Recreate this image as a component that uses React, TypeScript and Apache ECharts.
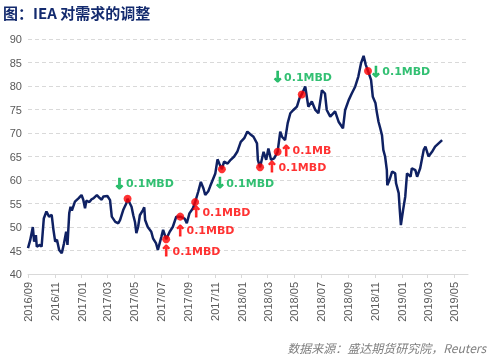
import React, { useEffect, useRef } from "react";
import * as echarts from "echarts";

const titleText = "图：IEA 对需求的调整";
const sourceText = "数据来源：盛达期货研究院，Reuters";

const yTicks = { min: 40, max: 90, step: 5 };

const dates = [
  "2016-09-01","2016-09-06","2016-09-12","2016-09-15","2016-09-19","2016-09-21","2016-09-28","2016-10-02","2016-10-07","2016-10-13",
  "2016-10-19","2016-10-25","2016-10-29","2016-11-02","2016-11-06","2016-11-11","2016-11-17","2016-11-22","2016-11-27","2016-11-30",
  "2016-12-04","2016-12-07","2016-12-10","2016-12-17","2016-12-25","2017-01-01","2017-01-05","2017-01-09","2017-01-12","2017-01-19",
  "2017-01-24","2017-01-28","2017-02-05","2017-02-12","2017-02-16","2017-02-20","2017-03-01","2017-03-07","2017-03-11","2017-03-19",
  "2017-03-26","2017-03-30","2017-04-06","2017-04-13","2017-04-16","2017-04-25","2017-04-29","2017-05-03","2017-05-06","2017-05-10",
  "2017-05-14","2017-05-21","2017-05-24","2017-05-26","2017-06-01","2017-06-09","2017-06-13","2017-06-20","2017-06-24","2017-07-02",
  "2017-07-06","2017-07-13","2017-07-21","2017-07-28","2017-08-05","2017-08-14","2017-08-24","2017-08-29","2017-09-04","2017-09-12",
  "2017-09-17","2017-09-24","2017-09-30","2017-10-06","2017-10-10","2017-10-17","2017-10-21","2017-10-27","2017-11-02","2017-11-07",
  "2017-11-11","2017-11-17","2017-11-22","2017-11-30","2017-12-07","2017-12-15","2017-12-22","2017-12-30","2018-01-07","2018-01-14",
  "2018-01-20","2018-01-28","2018-02-05","2018-02-07","2018-02-12","2018-02-20","2018-02-26","2018-03-03","2018-03-09","2018-03-16",
  "2018-03-24","2018-03-30","2018-04-03","2018-04-10","2018-04-16","2018-04-22","2018-04-29","2018-05-07","2018-05-13","2018-05-18",
  "2018-05-26","2018-06-02","2018-06-10","2018-06-18","2018-06-25","2018-07-03","2018-07-10","2018-07-14","2018-07-22","2018-08-02",
  "2018-08-10","2018-08-20","2018-08-25","2018-09-02","2018-09-09","2018-09-17","2018-09-24","2018-09-30","2018-10-06","2018-10-11",
  "2018-10-16","2018-10-23","2018-10-27","2018-11-02","2018-11-05","2018-11-09","2018-11-13","2018-11-17","2018-11-20","2018-11-24",
  "2018-11-28","2018-11-29","2018-12-04","2018-12-10","2018-12-17","2018-12-19","2018-12-25","2018-12-27","2018-12-30","2019-01-04",
  "2019-01-09","2019-01-13","2019-01-21","2019-01-24","2019-02-01","2019-02-05","2019-02-12","2019-02-20","2019-02-24","2019-03-03",
  "2019-03-11","2019-03-18","2019-03-26","2019-04-03"
];

const prices = [
  45.5,47.2,50.0,46.9,48.3,45.8,46.2,45.8,51.8,53.3,
  52.2,52.6,49.4,46.9,47.3,45.1,44.4,46.5,49.0,46.2,
  52.9,54.3,53.5,55.4,56.1,56.8,55.8,54.0,55.6,55.3,
  55.9,56.1,56.8,56.1,55.8,56.5,56.6,55.7,52.2,51.1,
  50.8,51.5,53.6,55.0,56.0,54.3,52.5,51.0,48.7,50.0,
  52.5,53.6,54.2,51.5,50.0,49.0,47.6,46.5,45.1,47.9,
  49.4,47.4,49.0,50.0,52.2,52.2,51.8,50.8,52.9,54.0,
  55.3,57.5,59.6,58.2,56.8,57.6,58.6,60.0,61.4,64.4,
  63.5,62.3,63.9,63.5,64.3,65.0,66.0,68.1,68.9,70.3,
  69.8,69.2,67.8,64.3,62.7,66.0,64.3,66.7,64.3,64.6,
  66.0,70.3,69.2,68.5,72.1,74.2,74.9,75.6,77.4,78.2,
  79.9,75.6,76.7,74.9,74.2,79.1,78.4,74.9,73.5,74.6,
  72.4,71.0,74.9,77.0,78.4,79.9,82.0,84.8,86.4,84.5,
  83.2,81.3,77.7,76.4,74.5,72.4,71.0,69.5,66.4,65.0,
  62.1,58.9,60.0,61.8,61.4,59.3,57.2,54.3,50.4,53.6,
  56.5,61.4,60.7,62.5,62.1,60.7,62.5,66.4,67.1,65.0,
  66.0,67.1,67.8,68.5
];

// IEA adjustments (red dots)
const adjDates = ["2017-04-16","2017-07-13","2017-08-14","2017-09-17","2017-11-17","2018-02-12","2018-03-24","2018-05-18","2018-10-16"];
const adjValues = [56.0, 47.4, 52.2, 55.3, 62.3, 62.7, 66.0, 78.2, 83.2];
const adjDirections = ["down","up","up","up","down","up","up","down","down"];
const adjTexts = ["0.1MBD","0.1MBD","0.1MBD","0.1MBD","0.1MBD","0.1MBD","0.1MB","0.1MBD","0.1MBD"];

function buildDays(): string[] {
  const out: string[] = [];
  const start = Date.UTC(2016, 8, 1);
  const end = Date.UTC(2019, 5, 1);
  for (let t = start; t <= end; t += 86400000) {
    const d = new Date(t);
    const m = d.getUTCMonth() + 1;
    const day = d.getUTCDate();
    out.push(`${d.getUTCFullYear()}-${m < 10 ? "0" + m : m}-${day < 10 ? "0" + day : day}`);
  }
  return out;
}

export default function App() {
  const ref = useRef<HTMLDivElement>(null);
  useEffect(() => {
    if (!ref.current) return;
    const chart = echarts.init(ref.current, null, { renderer: "svg" });
    const days = buildDays();
    const isTick = (_i: number, v: string) =>
      v.slice(8, 10) === "01" && parseInt(v.slice(5, 7), 10) % 2 === 1;
    const labelOffsets = [[16, -15], [24, 12], [24, 14], [25, 10], [22, 14], [36, 0], [28, -1], [0, -17], [32, 1]];
    const green = "#00b050";
    const red = "#ff0000";
    const scatterData = adjDates.map((d, i) => ({
      value: [d, adjValues[i]],
      label: {
        show: true,
        position: "inside",
        offset: labelOffsets[i],
        formatter: adjDirections[i] === "up" ? `{u|↑}{r|${adjTexts[i]}}` : `{d|↓}{g|${adjTexts[i]}}`,
      },
    }));
    const arrowStyle = (c: string) => ({
      fontSize: 15,
      fontWeight: "bold",
      color: c,
      fontFamily: "DejaVu Sans",
      textBorderColor: c,
      textBorderWidth: 0.8,
    });
    chart.setOption({
      animation: false,
      title: [
        {
          text: titleText,
          left: 3,
          top: 4,
          padding: 0,
          textStyle: { fontSize: 15, fontWeight: "bold", color: "#132a6e", fontFamily: "Noto Sans CJK SC", lineHeight: 17 },
        },
        {
          text: sourceText,
          right: 4,
          bottom: 4,
          padding: 0,
          textStyle: { fontSize: 12, fontWeight: "normal", fontStyle: "italic", color: "#7f7f7f", fontFamily: "Noto Sans CJK SC" },
        },
      ],
      grid: { left: 28, right: 22, top: 39, bottom: 83, containLabel: false },
      xAxis: {
        type: "category",
        data: days,
        boundaryGap: false,
        axisLine: { show: true, lineStyle: { color: "#d9d9d9", width: 1 } },
        axisTick: { show: true, interval: isTick, length: 4, lineStyle: { color: "#d9d9d9" } },
        axisLabel: {
          interval: isTick,
          rotate: 90,
          margin: 8,
          color: "#595959",
          fontSize: 11,
          fontFamily: "Liberation Sans",
          formatter: (v: string) => v.slice(0, 4) + "/" + v.slice(5, 7),
        },
        splitLine: { show: false },
      },
      yAxis: {
        type: "value",
        min: yTicks.min,
        max: yTicks.max,
        interval: yTicks.step,
        axisLine: { show: false },
        axisTick: { show: false },
        axisLabel: { color: "#595959", fontSize: 11, fontFamily: "Liberation Sans", margin: 6 },
        splitLine: { show: true, lineStyle: { color: "#d9d9d9", type: [4, 3], width: 1 } },
      },
      series: [
        {
          type: "line",
          data: dates.map((d, i) => [d, prices[i]]),
          showSymbol: false,
          symbol: "none",
          lineStyle: { color: "#0f2163", width: 2.5 },
          z: 2,
        },
        {
          type: "scatter",
          data: scatterData,
          symbol: "circle",
          symbolSize: 8,
          itemStyle: { color: red },
          z: 5,
          label: {
            show: true,
            rich: {
              u: arrowStyle(red),
              d: arrowStyle(green),
              r: { fontSize: 11, fontWeight: "bold", color: red, fontFamily: "DejaVu Sans" },
              g: { fontSize: 11, fontWeight: "bold", color: green, fontFamily: "DejaVu Sans" },
            },
          },
        },
      ],
    });
    return () => chart.dispose();
  }, []);
  return <div ref={ref} style={{ position: "fixed", left: 0, top: 0, width: 490, height: 357 }} />;
}
